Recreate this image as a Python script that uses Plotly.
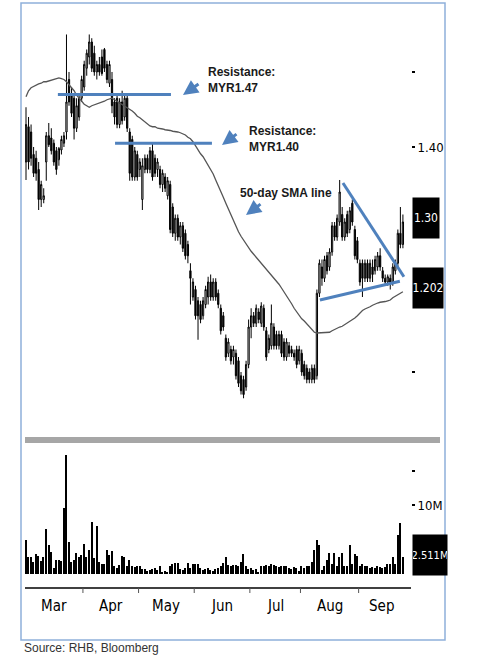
import plotly.graph_objects as go

# Daily price bars, early March to mid September (trading-day index)
opens = [1.38, 1.427, 1.42, 1.39, 1.385, 1.37, 1.33, 1.33, 1.38, 1.415,
         1.412, 1.405, 1.395, 1.383, 1.396, 1.405, 1.42, 1.49, 1.47, 1.465,
         1.425, 1.44, 1.465, 1.48, 1.505, 1.52, 1.54, 1.525, 1.50, 1.51,
         1.52, 1.53, 1.51, 1.485, 1.49, 1.46, 1.465, 1.43, 1.46, 1.44,
         1.465, 1.42, 1.41, 1.36, 1.39, 1.37, 1.33, 1.37, 1.385, 1.37,
         1.395, 1.385, 1.37, 1.37, 1.35, 1.36, 1.335, 1.35, 1.32, 1.285,
         1.305, 1.28, 1.295, 1.285, 1.27, 1.235, 1.20, 1.21, 1.195, 1.19,
         1.175, 1.19, 1.20, 1.22, 1.20, 1.22, 1.205, 1.185, 1.175, 1.145,
         1.125, 1.13, 1.12, 1.125, 1.115, 1.095, 1.09, 1.08, 1.11, 1.16,
         1.175, 1.165, 1.18, 1.165, 1.185, 1.155, 1.13, 1.135, 1.16, 1.15,
         1.135, 1.15, 1.14, 1.12, 1.135, 1.13, 1.125, 1.13, 1.115, 1.125,
         1.11, 1.105, 1.10, 1.09, 1.105, 1.095, 1.205, 1.24, 1.225, 1.255,
         1.24, 1.26, 1.295, 1.28, 1.30, 1.31, 1.28, 1.31, 1.29, 1.325,
         1.29, 1.275, 1.245, 1.245, 1.225, 1.245, 1.225, 1.24, 1.235, 1.24,
         1.255, 1.235, 1.225, 1.22, 1.225, 1.22, 1.235, 1.245, 1.285, 1.27]
highs = [1.453, 1.44, 1.43, 1.40, 1.395, 1.38, 1.355, 1.345, 1.42, 1.432,
         1.425, 1.41, 1.40, 1.40, 1.415, 1.42, 1.55, 1.50, 1.48, 1.47,
         1.465, 1.47, 1.495, 1.515, 1.53, 1.55, 1.545, 1.535, 1.515, 1.52,
         1.53, 1.532, 1.515, 1.515, 1.50, 1.465, 1.47, 1.465, 1.475, 1.47,
         1.47, 1.425, 1.415, 1.40, 1.395, 1.385, 1.385, 1.39, 1.39, 1.40,
         1.405, 1.39, 1.385, 1.375, 1.37, 1.365, 1.36, 1.355, 1.325, 1.31,
         1.31, 1.30, 1.30, 1.29, 1.275, 1.245, 1.225, 1.215, 1.20, 1.195,
         1.20, 1.215, 1.227, 1.23, 1.225, 1.225, 1.21, 1.19, 1.18, 1.15,
         1.145, 1.135, 1.135, 1.13, 1.12, 1.10, 1.095, 1.115, 1.17, 1.185,
         1.18, 1.19, 1.185, 1.193, 1.19, 1.16, 1.15, 1.19, 1.165, 1.155,
         1.155, 1.155, 1.145, 1.145, 1.14, 1.135, 1.13, 1.135, 1.135, 1.13,
         1.115, 1.11, 1.105, 1.11, 1.11, 1.21, 1.25, 1.25, 1.255, 1.26,
         1.265, 1.30, 1.30, 1.31, 1.356, 1.32, 1.305, 1.315, 1.32, 1.33,
         1.295, 1.28, 1.25, 1.25, 1.25, 1.25, 1.25, 1.25, 1.255, 1.26,
         1.265, 1.24, 1.23, 1.23, 1.23, 1.245, 1.25, 1.29, 1.32, 1.31]
lows = [1.356, 1.37, 1.375, 1.36, 1.355, 1.316, 1.32, 1.325, 1.355, 1.40,
        1.39, 1.375, 1.363, 1.375, 1.39, 1.40, 1.41, 1.455, 1.44, 1.41,
        1.42, 1.435, 1.46, 1.475, 1.495, 1.51, 1.50, 1.495, 1.49, 1.495,
        1.495, 1.50, 1.485, 1.48, 1.445, 1.43, 1.425, 1.425, 1.43, 1.435,
        1.42, 1.355, 1.355, 1.355, 1.355, 1.36, 1.316, 1.365, 1.365, 1.365,
        1.355, 1.36, 1.36, 1.345, 1.34, 1.34, 1.33, 1.285, 1.28, 1.275,
        1.275, 1.27, 1.26, 1.25, 1.245, 1.19, 1.195, 1.17, 1.143, 1.165,
        1.17, 1.185, 1.19, 1.195, 1.195, 1.195, 1.185, 1.15, 1.155, 1.115,
        1.12, 1.11, 1.11, 1.09, 1.08, 1.07, 1.065, 1.075, 1.105, 1.145,
        1.16, 1.16, 1.165, 1.16, 1.155, 1.115, 1.125, 1.13, 1.13, 1.13,
        1.13, 1.12, 1.115, 1.115, 1.12, 1.12, 1.115, 1.105, 1.11, 1.095,
        1.09, 1.085, 1.085, 1.085, 1.085, 1.09, 1.20, 1.215, 1.22, 1.23,
        1.235, 1.255, 1.275, 1.275, 1.295, 1.275, 1.275, 1.28, 1.285, 1.295,
        1.25, 1.245, 1.215, 1.20, 1.22, 1.22, 1.22, 1.22, 1.23, 1.235,
        1.235, 1.22, 1.215, 1.215, 1.21, 1.215, 1.23, 1.24, 1.265, 1.265]
closes = [1.43, 1.38, 1.385, 1.365, 1.365, 1.33, 1.35, 1.335, 1.415, 1.403,
          1.395, 1.38, 1.37, 1.398, 1.41, 1.415, 1.46, 1.46, 1.445, 1.425,
          1.455, 1.465, 1.49, 1.51, 1.525, 1.54, 1.505, 1.50, 1.51, 1.50,
          1.498, 1.505, 1.49, 1.51, 1.455, 1.44, 1.43, 1.46, 1.435, 1.465,
          1.425, 1.365, 1.36, 1.395, 1.36, 1.38, 1.375, 1.385, 1.37, 1.395,
          1.36, 1.365, 1.38, 1.35, 1.365, 1.345, 1.355, 1.29, 1.285, 1.305,
          1.28, 1.295, 1.265, 1.255, 1.255, 1.225, 1.22, 1.175, 1.175, 1.17,
          1.195, 1.21, 1.22, 1.20, 1.22, 1.20, 1.19, 1.155, 1.16, 1.12,
          1.14, 1.115, 1.13, 1.095, 1.085, 1.075, 1.07, 1.11, 1.16, 1.175,
          1.165, 1.185, 1.17, 1.188, 1.16, 1.12, 1.145, 1.165, 1.135, 1.135,
          1.15, 1.125, 1.12, 1.14, 1.125, 1.125, 1.12, 1.11, 1.13, 1.10,
          1.095, 1.09, 1.09, 1.105, 1.09, 1.205, 1.245, 1.225, 1.25, 1.235,
          1.26, 1.295, 1.28, 1.305, 1.34, 1.28, 1.30, 1.285, 1.315, 1.30,
          1.255, 1.25, 1.22, 1.225, 1.245, 1.225, 1.245, 1.23, 1.25, 1.255,
          1.24, 1.225, 1.22, 1.227, 1.22, 1.24, 1.245, 1.285, 1.27, 1.30]

# 50-day simple moving average as plotted (includes history before March)
sma50 = [1.467, 1.475, 1.479, 1.481, 1.483, 1.484, 1.485, 1.487, 1.487, 1.488,
         1.489, 1.490, 1.491, 1.492, 1.491, 1.490, 1.487, 1.483, 1.479, 1.475,
         1.469, 1.465, 1.461, 1.457, 1.455, 1.453, 1.455, 1.456, 1.457, 1.459,
         1.460, 1.461, 1.463, 1.464, 1.465, 1.463, 1.461, 1.459, 1.457, 1.455,
         1.453, 1.451, 1.448, 1.445, 1.441, 1.439, 1.436, 1.433, 1.431, 1.428,
         1.427, 1.427, 1.425, 1.425, 1.424, 1.423, 1.423, 1.422, 1.421, 1.421,
         1.420, 1.419, 1.418, 1.416, 1.413, 1.411, 1.407, 1.401, 1.396, 1.391,
         1.387, 1.381, 1.377, 1.371, 1.364, 1.356, 1.349, 1.340, 1.333, 1.325,
         1.317, 1.309, 1.302, 1.295, 1.287, 1.281, 1.276, 1.271, 1.265, 1.261,
         1.257, 1.253, 1.249, 1.245, 1.241, 1.238, 1.234, 1.229, 1.225, 1.221,
         1.217, 1.212, 1.207, 1.201, 1.196, 1.191, 1.185, 1.180, 1.175, 1.171,
         1.168, 1.164, 1.161, 1.157, 1.153, 1.152, 1.152, 1.152, 1.152, 1.152,
         1.153, 1.155, 1.157, 1.158, 1.160, 1.161, 1.163, 1.165, 1.167, 1.169,
         1.172, 1.175, 1.179, 1.182, 1.184, 1.185, 1.187, 1.189, 1.191, 1.192,
         1.193, 1.193, 1.194, 1.195, 1.196, 1.199, 1.201, 1.203, 1.205, 1.207]

# Daily volume, millions of shares
volume_m = [4.9, 2.4, 2.4, 1.8, 2.9, 2.6, 1.9, 2.4, 6.5, 4.2,
            3.2, 0.8, 2.1, 2.1, 1.9, 9.5, 17.2, 4.7, 1.8, 2.0,
            3.1, 2.5, 2.8, 4.4, 2.5, 3.5, 7.5, 2.3, 7.0, 1.8,
            1.5, 1.4, 3.5, 2.8, 3.4, 1.1, 0.8, 1.3, 2.6, 2.4,
            1.1, 2.0, 1.1, 1.0, 1.1, 1.2, 0.7, 0.7, 0.5, 0.6,
            0.7, 0.8, 0.6, 1.1, 0.3, 0.5, 0.3, 1.1, 1.4, 1.6,
            1.6, 0.7, 0.6, 0.8, 1.6, 0.8, 1.4, 1.4, 1.4, 0.8,
            0.6, 0.7, 0.8, 0.6, 0.5, 0.7, 0.8, 1.1, 1.6, 2.4,
            1.3, 1.1, 1.3, 1.3, 1.1, 1.8, 2.9, 1.1, 0.7, 0.8,
            0.6, 0.7, 0.3, 1.1, 1.2, 1.3, 1.2, 1.5, 1.3, 1.2,
            1.0, 1.1, 1.2, 1.1, 0.9, 0.7, 1.0, 0.8, 0.5, 1.1,
            0.8, 1.1, 1.1, 1.8, 3.5, 4.9, 4.2, 0.6, 1.1, 2.0,
            3.0, 1.5, 3.1, 1.2, 2.5, 3.1, 1.1, 1.1, 4.2, 1.5,
            2.9, 2.6, 1.1, 1.5, 1.1, 1.2, 0.8, 1.0, 0.8, 1.1,
            1.0, 0.8, 1.0, 1.5, 1.5, 2.4, 1.5, 5.7, 7.4, 2.5]

month_names = ["Mar", "Apr", "May", "Jun", "Jul", "Aug", "Sep"]
month_first_day = [0, 23, 45, 67, 89, 109, 132]   # index of first trading day

resistance_levels = [1.47, 1.405]
last_close_label = "1.30"
last_sma_label = "1.202"
last_volume_label = "2.511M"

days = list(range(len(closes)))

W, H = 501, 655
BLUE = "#4F81BD"
NARROW = "Liberation Sans Narrow, DejaVu Sans Condensed, Arial Narrow, sans-serif"


def px(x):
    return x / W


def py(y):
    return 1 - y / H


x_range = [-0.4, 152.2]

fig = go.Figure()

fig.add_trace(go.Candlestick(
    x=days, open=opens, high=highs, low=lows, close=closes,
    increasing=dict(line=dict(color="black", width=1), fillcolor="white"),
    decreasing=dict(line=dict(color="black", width=1), fillcolor="black"),
    whiskerwidth=0, showlegend=False, hoverinfo="skip",
))
fig.add_trace(go.Scatter(
    x=days, y=sma50, mode="lines", line=dict(color="#555555", width=1.3),
    showlegend=False, hoverinfo="skip",
))
fig.add_trace(go.Bar(
    x=days, y=volume_m, xaxis="x2", yaxis="y2", width=0.6,
    marker=dict(color="black", line=dict(width=0)), showlegend=False, hoverinfo="skip",
))

shapes = [
    # outer frame
    dict(type="rect", xref="paper", yref="paper", x0=px(21), x1=px(445), y0=py(640), y1=py(3),
         line=dict(color="#8EB0DA", width=1.5)),
    # grey separator between price and volume
    dict(type="line", xref="paper", yref="paper", x0=px(25), x1=px(440), y0=py(440), y1=py(440),
         line=dict(color="#A6A6A6", width=6)),
    # bottom time axis
    dict(type="line", xref="x2", yref="paper", x0=x_range[0], x1=x_range[1], y0=py(588), y1=py(588),
         line=dict(color="black", width=1.5)),
]
for d in month_first_day[1:]:
    shapes.append(dict(type="line", xref="x2", yref="paper", x0=d - 0.5, x1=d - 0.5,
                       y0=py(588), y1=py(593), line=dict(color="#555555", width=1)))

# resistance levels
res_spans = [(12.6, 57.3), (35.2, 73.5)]
for lvl, (a, b) in zip(resistance_levels, res_spans):
    shapes.append(dict(type="line", xref="x", yref="y", x0=a, x1=b, y0=lvl, y1=lvl,
                       line=dict(color=BLUE, width=3)))
# symmetrical triangle
shapes.append(dict(type="line", xref="x", yref="y", x0=125.3, x1=149.4, y0=1.352, y1=1.227,
                   line=dict(color=BLUE, width=3)))
shapes.append(dict(type="line", xref="x", yref="y", x0=116.2, x1=147.8, y0=1.196, y1=1.221,
                   line=dict(color=BLUE, width=3)))

label_font = dict(family="Liberation Sans, Arial, sans-serif", size=12, color="#1a1a1a")
annotations = [
    dict(xref="paper", yref="paper", x=px(206), y=py(80), xanchor="left", yanchor="middle",
         text="<b>Resistance:<br>MYR1.47</b>", showarrow=False, align="left", font=label_font),
    dict(xref="paper", yref="paper", x=px(247), y=py(139), xanchor="left", yanchor="middle",
         text="<b>Resistance:<br>MYR1.40</b>", showarrow=False, align="left", font=label_font),
    dict(xref="paper", yref="paper", x=px(238), y=py(193), xanchor="left", yanchor="middle",
         text="<b>50-day SMA line</b>", showarrow=False, align="left", font=label_font),
]
for hx, hy, tx, ty in [(183, 95, 200, 83), (222, 145, 238, 133), (246, 215, 262, 203)]:
    annotations.append(dict(xref="paper", yref="paper", x=px(hx), y=py(hy), ax=tx - hx, ay=ty - hy,
                            text="", showarrow=True, arrowhead=2, arrowsize=1, arrowwidth=3,
                            arrowcolor=BLUE))

# black value boxes on the right scale
for txt, yc, w, fs in [(last_close_label, 218, 26, 12), (last_sma_label, 288, 30, 12),
                       (last_volume_label, 555, 34, 11)]:
    annotations.append(dict(xref="paper", yref="paper", x=px(412), y=py(yc), xanchor="left",
                            yanchor="middle", text=txt, showarrow=False, bgcolor="black",
                            width=w, height=40, borderpad=0,
                            font=dict(family=NARROW, size=fs, color="white")))

# month labels centred in each month
month_bounds = [d - 0.5 for d in month_first_day] + [len(days) - 0.5]
for i, name in enumerate(month_names):
    annotations.append(dict(xref="x2", yref="paper", x=(month_bounds[i] + month_bounds[i + 1]) / 2,
                            y=py(617), text=name, showarrow=False,
                            font=dict(family=NARROW, size=15, color="black")))

annotations.append(dict(xref="paper", yref="paper", x=px(22), y=py(648), xanchor="left",
                        yanchor="middle", text="Source: RHB, Bloomberg", showarrow=False,
                        font=dict(family="Liberation Sans, Arial, sans-serif", size=12, color="#333333")))

axis_font = dict(family=NARROW, size=13, color="black")
fig.update_layout(
    width=W, height=H, margin=dict(l=0, r=0, t=0, b=0),
    paper_bgcolor="white", plot_bgcolor="white",
    xaxis=dict(domain=[px(25), px(411)], range=x_range, visible=False,
               rangeslider=dict(visible=False), anchor="y"),
    yaxis=dict(domain=[py(430), py(20)], range=[1.0227, 1.5693], side="right",
               tickvals=[1.1, 1.4, 1.5], ticktext=["", "1.40", ""], ticks="outside",
               ticklen=3, tickwidth=1.5, tickcolor="black", showgrid=False, zeroline=False,
               showline=False, tickfont=axis_font, anchor="x"),
    xaxis2=dict(domain=[px(25), px(411)], range=x_range, visible=False, anchor="y2"),
    yaxis2=dict(domain=[py(574), py(445)], range=[0, 18.7], side="right",
                tickvals=[10, 15], ticktext=["10M", ""], ticks="outside",
                ticklen=3, tickwidth=1.5, tickcolor="black", showgrid=False, zeroline=False,
                showline=False, tickfont=axis_font, anchor="x2"),
    shapes=shapes, annotations=annotations, bargap=0,
)

# drop the browser's default body margin so the figure sits at the page corner
fig.write_html("out.html", config={"displayModeBar": False},
               post_script="document.body.style.margin='0';")
